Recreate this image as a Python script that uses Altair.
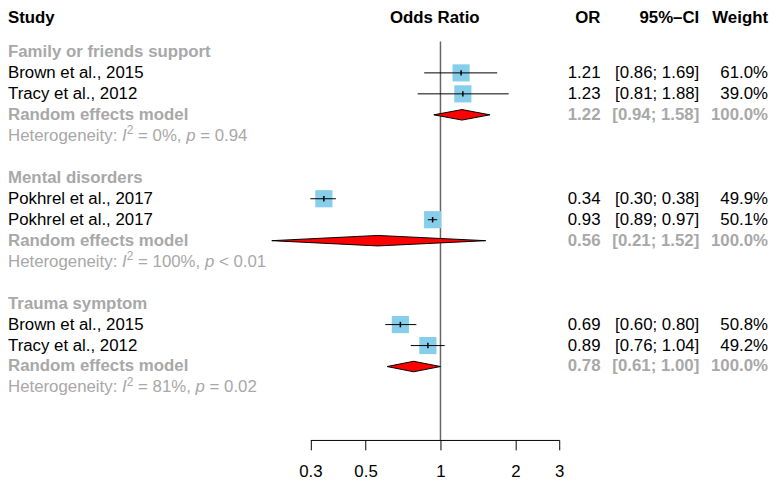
import altair as alt
import pandas as pd

FONT = "Liberation Sans"
GRAY = "#A8A8A8"

# ---- data ----
study_names = ["Brown et al., 2015", "Tracy et al., 2012",
               "Pokhrel et al., 2017", "Pokhrel et al., 2017",
               "Brown et al., 2015", "Tracy et al., 2012"]
study_rows = [3, 4, 9, 10, 15, 16]
study_or = [1.21, 1.23, 0.34, 0.93, 0.69, 0.89]
study_lo = [0.86, 0.81, 0.30, 0.89, 0.60, 0.76]
study_hi = [1.69, 1.88, 0.38, 0.97, 0.80, 1.04]
study_w = ["61.0%", "39.0%", "49.9%", "50.1%", "50.8%", "49.2%"]

groups = ["Family or friends support", "Mental disorders", "Trauma symptom"]
group_rows = [2, 8, 14]
pooled_rows = [5, 11, 17]
pooled_or = [1.22, 0.56, 0.78]
pooled_lo = [0.94, 0.21, 0.61]
pooled_hi = [1.58, 1.52, 1.00]
pooled_w = ["100.0%", "100.0%", "100.0%"]
het_rows = [6, 12, 18]
het_i2 = ["0%", "100%", "81%"]
het_p = ["= 0.94", "< 0.01", "= 0.02"]

headers = ["Study", "Odds Ratio", "OR", "95%\u2013CI", "Weight"]
header_row = 0.4
tick_values = [0.3, 0.5, 1, 2, 3]
ref_value = 1.0
ref_top_row = 1.5
axis_row = 20.5
diamond_half = 0.25

# ---- text width helper (Arial / Liberation Sans advance widths, per 1000 em) ----
ADV = {"H": 722, "e": 556, "t": 278, "r": 333, "o": 556, "g": 556, "n": 556, "i": 222,
       "y": 500, ":": 278, " ": 278, "=": 584, "%": 889, ",": 278, ".": 278, "<": 584,
       "I": 278, "p": 556}


def text_w(s, size):
    return sum(ADV.get(c, 556) for c in s) / 1000.0 * size


FS = 17
SUP = 12

# ---- tables ----
studies = pd.DataFrame({
    "name": study_names, "row": study_rows, "or": study_or,
    "lo": study_lo, "hi": study_hi, "w": study_w,
})
studies["or_txt"] = [f"{v:.2f}" for v in study_or]
studies["ci_txt"] = [f"[{a:.2f}; {b:.2f}]" for a, b in zip(study_lo, study_hi)]
studies["tlo"] = studies["row"] - 0.13
studies["thi"] = studies["row"] + 0.13

pooled = pd.DataFrame({
    "row": pooled_rows, "or": pooled_or, "lo": pooled_lo, "hi": pooled_hi, "w": pooled_w,
})
pooled["or_txt"] = [f"{v:.2f}" for v in pooled_or]
pooled["ci_txt"] = [f"[{a:.2f}; {b:.2f}]" for a, b in zip(pooled_lo, pooled_hi)]

gray_bold = pd.DataFrame({
    "label": groups + ["Random effects model"] * 3,
    "row": group_rows + pooled_rows,
})

# heterogeneity lines split into styled segments (SVG drops edge spaces,
# so leading spaces are turned into offset instead)
seg = []
for r, i2, p in zip(het_rows, het_i2, het_p):
    parts = [("Heterogeneity: ", "n"), ("I", "i"), ("2", "s"),
             (f" = {i2}, ", "n"), ("p", "i"), (f" {p}", "n")]
    off = 0.0
    for s, st in parts:
        size = SUP if st == "s" else FS
        lead = len(s) - len(s.lstrip(" "))
        seg.append({"row": r, "label": s.strip(), "style": st,
                    "off": off + text_w(" " * lead, size)})
        off += text_w(s, size)
segs = pd.DataFrame(seg)

dia_rows = []
for i in range(len(pooled_rows)):
    r = pooled_rows[i]
    dia_rows.append({"g": i, "x": pooled_lo[i], "y1": r, "y2": r})
    dia_rows.append({"g": i, "x": pooled_or[i], "y1": r - diamond_half, "y2": r + diamond_half})
    dia_rows.append({"g": i, "x": pooled_hi[i], "y1": r, "y2": r})
diamonds = pd.DataFrame(dia_rows)

hdr = pd.DataFrame({"label": headers, "row": [header_row] * 5})
ref = pd.DataFrame({"x": [ref_value], "y1": [ref_top_row], "y2": [axis_row]})
odds_hdr = pd.DataFrame({"label": ["Odds Ratio"], "x": [(0.3 * 3) ** 0.5], "row": [header_row]})

# ---- scales ----
xs = alt.Scale(type="log", domain=[0.3, 3], range=[305.5, 557], nice=False, zero=False)
ys = alt.Scale(domain=[0, axis_row], range=[-0.5, 434], nice=False, zero=False)
xaxis = alt.Axis(values=tick_values, format="~g", title=None, grid=False,
                 tickSize=10, labelPadding=14, domainColor="black", tickColor="black",
                 domainWidth=1, tickWidth=1, labelColor="black", labelFont=FONT,
                 labelFontSize=17, labelFlush=False, labelOverlap=False)


def X(f):
    return alt.X(f, type="quantitative", scale=xs, axis=xaxis)


def Y(f):
    return alt.Y(f, type="quantitative", scale=ys, axis=None)


def text_layer(df, field, xpix, align, bold, color):
    return alt.Chart(df).mark_text(
        align=align, baseline="middle", font=FONT, fontSize=FS,
        fontWeight="bold" if bold else "normal", color=color,
    ).encode(x=alt.value(xpix), y=Y("row"), text=alt.Text(f"{field}:N"))


def seg_layer(style, size, italic, dy):
    return alt.Chart(segs[segs["style"] == style]).mark_text(
        align="left", baseline="middle", font=FONT, fontSize=size,
        fontStyle="italic" if italic else "normal", color=GRAY, dy=dy,
    ).encode(x=alt.X("off:Q", scale=None), y=Y("row"), text="label:N")


ref_line = alt.Chart(ref).mark_rule(color="#666666", strokeWidth=1.5).encode(
    x=X("x"), y=Y("y1"), y2=alt.Y2("y2"))

squares = alt.Chart(studies).mark_square(size=300, color="#87CEEB", opacity=1, filled=True).encode(
    x=X("or"), y=Y("row"))

ci = alt.Chart(studies).mark_rule(color="black", strokeWidth=1).encode(
    x=X("lo"), x2=alt.X2("hi"), y=Y("row"))

est = alt.Chart(studies).mark_rule(color="black", strokeWidth=1.5).encode(
    x=X("or"), y=Y("tlo"), y2=alt.Y2("thi"))

dia = alt.Chart(diamonds).mark_area(color="red", fill="red", stroke="black", strokeWidth=1,
                                    orient="vertical", opacity=1).encode(
    x=X("x"), y=Y("y1"), y2=alt.Y2("y2"), detail="g:N")

layers = [
    ref_line, squares, ci, est, dia,
    # headers
    text_layer(hdr[hdr.label == "Study"], "label", 0, "left", True, "black"),
    alt.Chart(odds_hdr).mark_text(align="center", baseline="middle", font=FONT, fontSize=FS,
                                   fontWeight="bold", color="black").encode(
        x=X("x"), y=Y("row"), text="label:N"),
    text_layer(hdr[hdr.label == "OR"], "label", 598.7, "right", True, "black"),
    text_layer(hdr[hdr.label == "95%\u2013CI"], "label", 698.5, "right", True, "black"),
    text_layer(hdr[hdr.label == "Weight"], "label", 768, "right", True, "black"),
    # left column
    text_layer(studies, "name", 0, "left", False, "black"),
    text_layer(gray_bold, "label", 0, "left", True, GRAY),
    seg_layer("n", FS, False, 0),
    seg_layer("i", FS, True, 0),
    seg_layer("s", SUP, False, -6),
    # right columns
    text_layer(studies, "or_txt", 598.7, "right", False, "black"),
    text_layer(studies, "ci_txt", 698.5, "right", False, "black"),
    text_layer(studies, "w", 768, "right", False, "black"),
    text_layer(pooled, "or_txt", 598.7, "right", True, GRAY),
    text_layer(pooled, "ci_txt", 698.5, "right", True, GRAY),
    text_layer(pooled, "w", 768, "right", True, GRAY),
]

chart = alt.layer(*layers).properties(
    width=772, height=434,
    padding={"left": 0, "right": 0, "top": 0, "bottom": 39},
    autosize=alt.AutoSizeParams(type="none"),
).configure_view(stroke=None)

chart.save("out.html", embed_options={"renderer": "svg", "actions": False})
